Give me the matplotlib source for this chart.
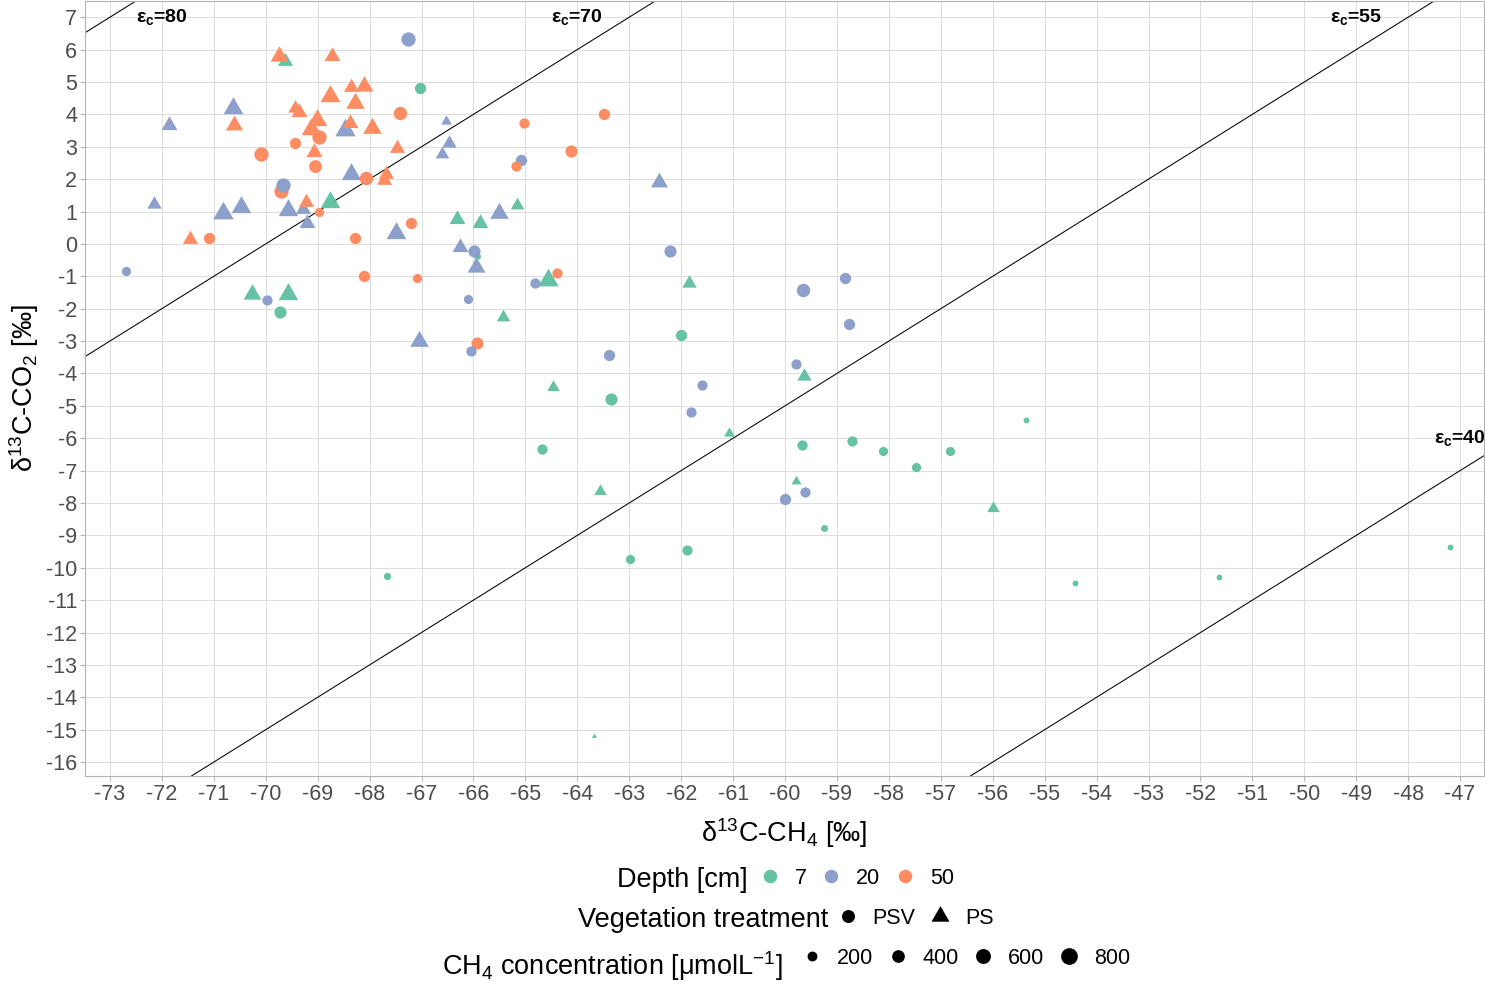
import numpy as np
import matplotlib
matplotlib.use("Agg")
import matplotlib.pyplot as plt
from matplotlib.lines import Line2D

plt.rcParams['font.family'] = ['Liberation Sans', 'DejaVu Sans']
plt.rcParams['mathtext.fontset'] = 'custom'
plt.rcParams['mathtext.rm'] = 'Liberation Sans'
plt.rcParams['mathtext.it'] = 'Liberation Sans:italic'
plt.rcParams['mathtext.bf'] = 'Liberation Sans:bold'
plt.rcParams['axes.unicode_minus'] = False

# --- data ---
# delta13C of CH4, delta13C of CO2, depth [cm], vegetation treatment, CH4 conc [umol/L]
d13c_ch4 = [
    -69.63, -69.74, -68.73, -68.35, -68.10, -68.77, -68.28, -70.63, -69.44, -69.36,
    -71.86, -70.61, -68.48, -69.01, -69.12, -68.38, -67.95, -69.07, -67.47, -66.52,
    -66.48, -66.60, -68.35, -67.69, -67.73, -72.15, -70.83, -70.47, -69.57, -69.28,
    -69.22, -68.77, -69.20, -71.46, -67.50, -66.31, -65.88, -66.26, -65.96, -70.27,
    -69.57, -62.43, -65.16, -65.50, -64.56, -61.84, -65.43, -67.05, -64.47, -63.57,
    -61.08, -59.64, -59.78, -56.00, -63.68,
    -67.26, -67.02, -67.42, -68.97, -69.44, -70.09, -69.05, -68.07, -69.71, -69.66,
    -68.98, -71.09, -68.28, -67.20, -65.93, -65.98, -72.70, -68.11, -67.09, -69.98,
    -66.10, -69.73, -65.03, -63.49, -64.12, -65.08, -65.19, -64.81, -64.39, -62.22,
    -65.93, -66.04, -62.00, -63.39, -63.35, -61.59, -61.82, -64.68, -58.77, -59.79,
    -59.68, -58.71, -58.12, -57.48, -56.83, -59.62, -60.00, -59.25, -61.88, -62.99,
    -59.66, -58.85, -55.36, -54.41, -51.64, -47.20, -67.66,
]
d13c_co2 = [
    5.64, 5.80, 5.80, 4.83, 4.87, 4.56, 4.35, 4.21, 4.21, 4.08,
    3.67, 3.67, 3.51, 3.82, 3.56, 3.72, 3.58, 2.84, 2.97, 3.80,
    3.10, 2.79, 2.15, 2.17, 1.97, 1.23, 0.94, 1.14, 1.04, 1.07,
    1.30, 1.30, 0.66, 0.14, 0.34, 0.78, 0.65, -0.09, -0.71, -1.55,
    -1.55, 1.92, 1.20, 0.94, -1.10, -1.20, -2.25, -3.00, -4.43, -7.63,
    -5.85, -4.08, -7.33, -8.17, -15.19,
    6.32, 4.82, 4.05, 3.30, 3.10, 2.77, 2.40, 2.02, 1.63, 1.83,
    0.99, 0.19, 0.19, 0.63, -0.38, -0.22, -0.83, -1.00, -1.04, -1.72,
    -1.71, -2.10, 3.74, 4.00, 2.87, 2.59, 2.41, -1.20, -0.89, -0.22,
    -3.06, -3.30, -2.80, -3.44, -4.79, -4.36, -5.19, -6.34, -2.46, -3.70,
    -6.21, -6.09, -6.38, -6.88, -6.38, -7.66, -7.89, -8.76, -9.45, -9.74,
    -1.41, -1.04, -5.44, -10.46, -10.27, -9.35, -10.26,
]
depth_cm = [
    7, 50, 50, 50, 50, 50, 50, 20, 50, 50,
    20, 50, 20, 50, 50, 50, 50, 50, 50, 20,
    20, 20, 20, 50, 50, 20, 20, 20, 20, 20,
    50, 7, 20, 50, 20, 7, 7, 20, 20, 7,
    7, 20, 7, 20, 7, 7, 7, 20, 7, 7,
    7, 7, 7, 7, 7,
    20, 7, 50, 50, 50, 50, 50, 50, 50, 20,
    50, 50, 50, 50, 7, 20, 20, 50, 50, 20,
    20, 7, 50, 50, 50, 20, 50, 20, 50, 20,
    50, 20, 7, 20, 7, 20, 20, 7, 20, 20,
    7, 7, 7, 7, 7, 20, 20, 7, 7, 7,
    20, 20, 7, 7, 7, 7, 7,
]
treatment = ['PS'] * 55 + ['PSV'] * 57
ch4_conc = [
    260, 400, 295, 260, 400, 525, 445, 515, 225, 295,
    295, 360, 570, 515, 515, 295, 445, 295, 260, 95,
    225, 190, 515, 260, 260, 225, 570, 515, 515, 260,
    260, 515, 295, 260, 515, 295, 295, 295, 400, 400,
    515, 360, 190, 445, 570, 225, 190, 445, 150, 150,
    95, 225, 75, 150, 2,
    500, 270, 425, 500, 270, 500, 380, 425, 500, 500,
    150, 270, 270, 270, 60, 330, 150, 270, 150, 205,
    150, 330, 205, 270, 330, 270, 205, 205, 205, 330,
    330, 205, 270, 270, 330, 205, 205, 205, 270, 205,
    205, 205, 150, 150, 150, 205, 270, 60, 205, 150,
    425, 270, 30, 30, 30, 30, 70,
]

depth_levels = [7, 20, 50]
depth_colors = {7: '#66C2A5', 20: '#8DA0CB', 50: '#FC8D62'}
size_breaks = [200, 400, 600, 800]

eps_values = [80, 70, 55, 40]
eps_label_x = [-72, -64, -49, -47]
eps_label_y = [7, 7, 7, -6]

TRI = [(0, 1), (-0.866, -0.5), (0.866, -0.5)]


def diam_px(c):
    # point diameter in px at dpi 100 (sqrt area scaling like ggplot)
    return 3.0 + 0.485 * np.sqrt(c)


def marker_area(c, shape):
    d = diam_px(c) * 0.72
    if shape == 'PS':
        d = d * 1.4 / 0.866
    else:
        d = d * 1.03
    return d ** 2


W, H = 1485, 985
fig = plt.figure(figsize=(W / 100, H / 100), dpi=100)
ax = fig.add_axes([85 / W, 209 / H, 1399 / W, 775 / H])

# fractionation lines
for eps, lx, ly in zip(eps_values, eps_label_x, eps_label_y):
    ax.axline((-60, -60 + eps), slope=1, color='black', lw=0.75, zorder=2)
    ax.text(lx, ly, r'ε$_{\mathbf{c}}$=%d' % eps, fontsize=14, fontweight='bold',
            ha='center', va='center', zorder=4)

for x, y, dep, tr, c in zip(d13c_ch4, d13c_co2, depth_cm, treatment, ch4_conc):
    ax.scatter(x, y, s=marker_area(c, tr), c=depth_colors[dep],
               marker=TRI if tr == 'PS' else 'o', linewidths=0, zorder=3)

ax.set_xlim(-73.48, -46.54)
ax.set_ylim(-16.43, 7.50)
ax.set_xticks(np.arange(-73, -46))
ax.set_yticks(np.arange(-16, 8))
ax.grid(True, color='#DEDEDE', lw=0.8, zorder=0)
ax.set_axisbelow(True)
for sp in ax.spines.values():
    sp.set_color('#B3B3B3')
    sp.set_linewidth(0.8)
ax.tick_params(colors='#B3B3B3', labelcolor='#4D4D4D', labelsize=15.5, length=3.5, width=0.8, pad=2)

ax.set_xlabel('δ$^{13}$C-CH$_{4}$ [‰]', fontsize=19.5, labelpad=8)
ax.set_ylabel('δ$^{13}$C-CO$_{2}$ [‰]', fontsize=19.5, labelpad=4)

# legend rows (ggplot style: title on the left of the keys)
leg_kw = dict(loc='center left', frameon=False, fontsize=15.5, handlelength=1.0,
              handletextpad=0.65, columnspacing=0.65, borderpad=0, borderaxespad=0)

h1 = [Line2D([], [], ls='', marker='o', ms=13.5 * 0.72, mec='none', mfc=depth_colors[d]) for d in depth_levels]
fig.text(748 / W, 1 - 880 / H, 'Depth [cm]', ha='right', va='center', fontsize=19.5)
fig.legend(h1, [str(d) for d in depth_levels], bbox_to_anchor=(759 / W, 1 - 878 / H), ncol=3, **leg_kw)

h2 = [Line2D([], [], ls='', marker='o', ms=13 * 0.72, mec='none', mfc='black'),
      Line2D([], [], ls='', marker=TRI, ms=18 / 0.866 * 0.72, mec='none', mfc='black')]
fig.text(828 / W, 1 - 920 / H, 'Vegetation treatment', ha='right', va='center', fontsize=19.5)
fig.legend(h2, ['PSV', 'PS'], bbox_to_anchor=(837 / W, 1 - 918 / H), ncol=2, **leg_kw)

h3 = [Line2D([], [], ls='', marker='o', ms=diam_px(b) * 0.72, mec='none', mfc='black') for b in size_breaks]
fig.text(783 / W, 1 - 966 / H, 'CH$_{4}$ concentration [μmolL$^{-1}$]', ha='right', va='center', fontsize=19.5)
fig.legend(h3, [str(b) for b in size_breaks], bbox_to_anchor=(801 / W, 1 - 958 / H), ncol=4, **leg_kw)

fig.savefig('out.png', dpi=100)
